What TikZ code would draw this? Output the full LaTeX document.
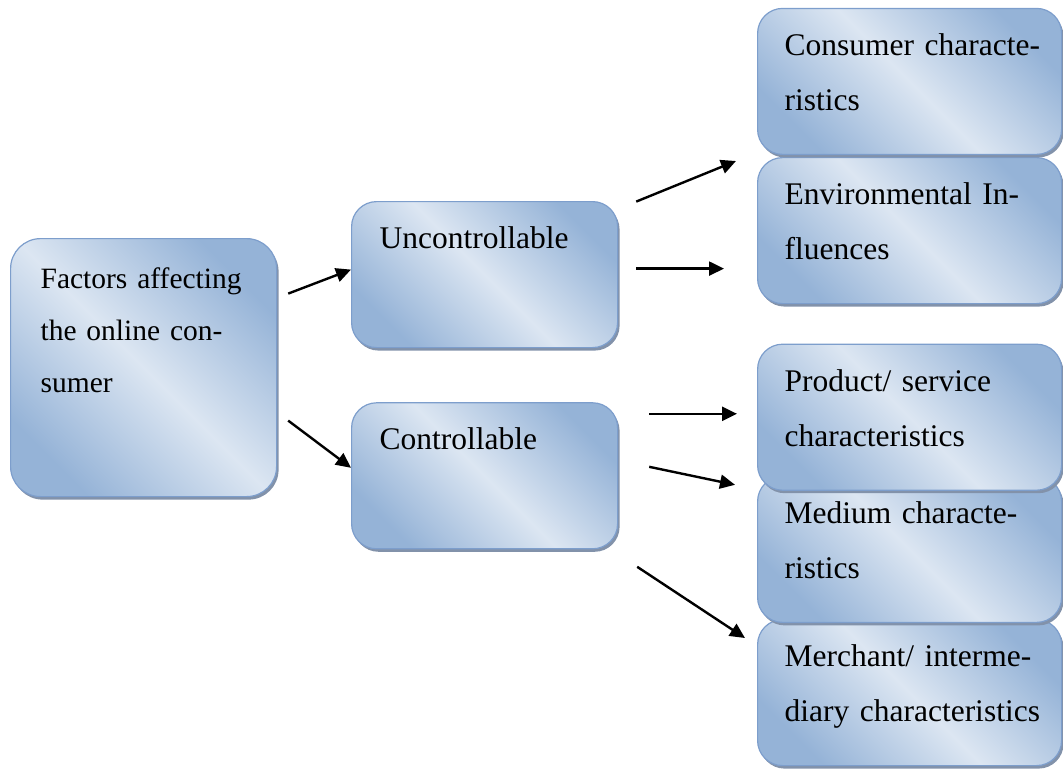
\documentclass[tikz,border=0pt]{standalone}
\usepackage{fontspec}
\setmainfont{Liberation Serif}
\usetikzlibrary{positioning,shadows,arrows.meta}
\definecolor{boxdark}{RGB}{149,179,215}
\definecolor{boxlight}{RGB}{220,230,242}
\definecolor{boxline}{RGB}{125,158,204}
\definecolor{boxshadow}{RGB}{130,146,170}
\tikzstyle{box} = [rectangle, rounded corners=25pt, draw=boxline, line width=1.2pt,
    top color=boxdark, bottom color=boxdark, middle color=boxlight, shading angle=-45,
    drop shadow={shadow xshift=2pt, shadow yshift=-3pt, fill=boxshadow, opacity=1},
    align=left, inner ysep=0pt, font=\fontsize{31.5}{55}\selectfont]
\tikzstyle{bigbox} = [box, rounded corners=30pt, inner xsep=30pt, text width=206pt,
    text height=50pt, text depth=208pt, font=\fontsize{29.5}{52}\selectfont]
\tikzstyle{midbox} = [box, inner xsep=28pt, text width=210pt, text height=47pt, text depth=99pt]
\tikzstyle{sidebox} = [box, inner xsep=27pt, text width=250pt, text height=47pt, text depth=99pt]
\tikzstyle{line} = [draw, line width=2.4pt, -{Triangle[length=15pt,width=14pt]}]
\begin{document}
\begin{tikzpicture}[x=1pt, y=1pt]
    \useasboundingbox (0,0) rectangle (1063,-769);
    % Place nodes
    \node [bigbox, anchor=north west] (factors) at (10,-238) {\mbox{Factors affecting}\\\mbox{the online con-}\\sumer};
    \node [midbox, anchor=north west] (unctrl) at (351,-201) {Uncontrollable};
    \node [midbox, below=54pt of unctrl] (ctrl) {Controllable};
    \node [sidebox, anchor=north west] (merchant) at (757,-619) {\mbox{Merchant/ interme-}\\\mbox{diary characteristics}};
    \node [sidebox, above=-4pt of merchant] (medium) {\mbox{Medium characte-}\\ristics};
    \node [sidebox, above=-15pt of medium] (product) {\mbox{Product/ service}\\characteristics};
    \node [sidebox, anchor=north west] (environ) at (757,-157) {\mbox{Environmental In-}\\fluences};
    \node [sidebox, above=2pt of environ] (consumer) {\mbox{Consumer characte-}\\ristics};
    % Draw edges
    \path [line] ([xshift=11pt,yshift=74pt]factors.east) -- ([yshift=5pt]unctrl.west);
    \path [line] ([xshift=11pt,yshift=-53pt]factors.east) -- ([yshift=8pt]ctrl.west);
    \path [line] ([xshift=18pt,yshift=73pt]unctrl.east) -- ([xshift=-21pt,yshift=-6pt]consumer.south west);
    \path [line] ([xshift=18pt,yshift=6pt]unctrl.east) coordinate (envtail) -- ([xshift=-33pt]envtail -| environ.west);
    \path [line] ([xshift=31pt,yshift=62pt]ctrl.east) coordinate (prodtail) -- ([xshift=-20pt]prodtail -| product.west);
    \path [line] ([xshift=31pt,yshift=9pt]ctrl.east) -- ([xshift=-22pt,yshift=-9pt]medium.north west);
    \path [line] ([xshift=19pt,yshift=-91pt]ctrl.east) -- ([xshift=-12pt,yshift=-19pt]merchant.north west);
\end{tikzpicture}
\end{document}
